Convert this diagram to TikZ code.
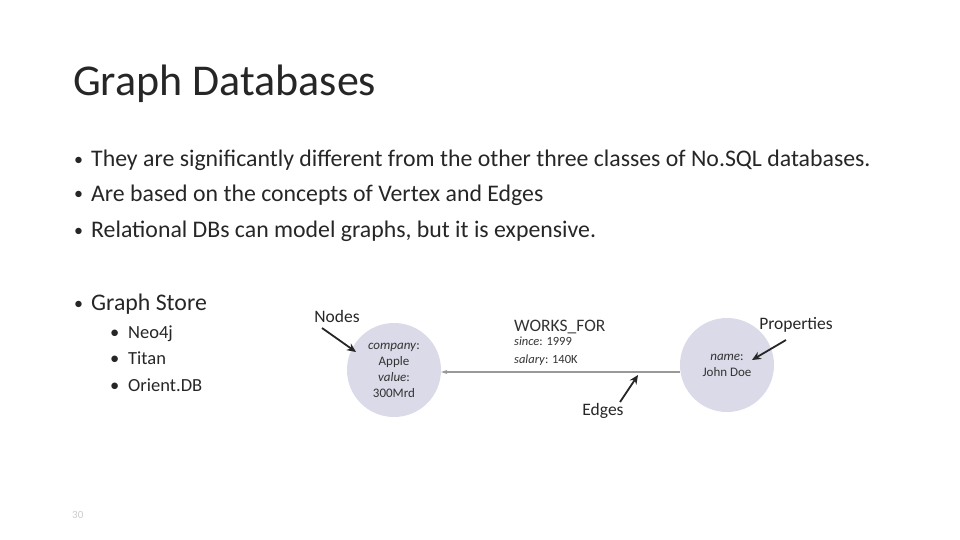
\documentclass[tikz,border=0pt]{standalone}
\usepackage{fontspec}
\setmainfont{Carlito}
\usetikzlibrary{arrows.meta}
\begin{document}
\begin{tikzpicture}[x=1pt,y=-1pt,
  txt/.style={anchor=base west,inner sep=0pt,text=black!85},
  body/.style={txt,font=\fontsize{23.8}{28}\selectfont},
  bul/.style={txt,font=\fontsize{18}{20}\selectfont},
  sub/.style={txt,font=\fontsize{18.5}{22}\selectfont},
  gnode/.style={circle,fill={rgb,255:red,218;green,218;blue,232},minimum size=94pt,inner sep=0pt,align=center,font=\fontsize{13}{16}\selectfont,text=black!80},
  hand/.style={font=\fontsize{17.5}{20}\selectfont,text=black!85,inner sep=0pt},
  harrow/.style={-{Stealth[length=9pt,width=8pt]},line width=1.8pt,black!85}]
\useasboundingbox (0,0) rectangle (960,540);
\node[txt,font=\fontsize{44}{50}\selectfont] (title) at (73,96) {Graph Databases};
\foreach \y/\t [count=\i] in {167/{They are significantly different from the other three classes of No.SQL databases.},201/{Are based on the concepts of Vertex and Edges},237/{Relational DBs can model graphs, but it is expensive.},310/{Graph Store}}{
  \node[bul] (b\i) at (74,\y-1) {•};
  \node[body] (t\i) at (91,\y) {\t};
}
\foreach \y/\t [count=\i] in {338/Neo4j,364/Titan,391/Orient.DB}{
  \node[sub] (sb\i) at (110,\y) {•};
  \node[sub] (st\i) at (128,\y) {\t};
}
\node[txt,font=\fontsize{11}{13}\selectfont,text=gray!40] (pg) at (72,518) {30};
\node[gnode] (apple) at (394,370) {\textit{company}:\\Apple\\\textit{value}:\\300Mrd};
\node[gnode] (john) at (727,365) {\textit{name}:\\John Doe};
\draw[-{Stealth[length=6pt,width=4pt]},line width=1.5pt,gray!80] (john.west|-0,372) coordinate (e1) -- (apple.east|-0,372) coordinate (e2);
\node[anchor=north west,inner sep=0pt,align=left,font=\fontsize{12.5}{18}\selectfont,text=black!80] (lab) at (514,320) {{\fontsize{17.5}{19}\selectfont WORKS\_FOR}\\[-4pt]\textit{since}: 1999\\\textit{salary}: 140K};
\node[hand] (nodes) at (337,316) {Nodes};
\node[hand] (edges) at (603,411) {Edges};
\node[hand] (props) at (796,325) {Properties};
\coordinate (ns) at (322,328);
\coordinate (na) at (356,352);
\coordinate (es) at (620,402);
\coordinate (ea) at (638,375);
\coordinate (ps) at (786,340);
\coordinate (pa) at (752,360);
\draw[harrow] (ns) -- (na);
\draw[harrow] (es) -- (ea);
\draw[harrow] (ps) -- (pa);
\end{tikzpicture}
\end{document}
